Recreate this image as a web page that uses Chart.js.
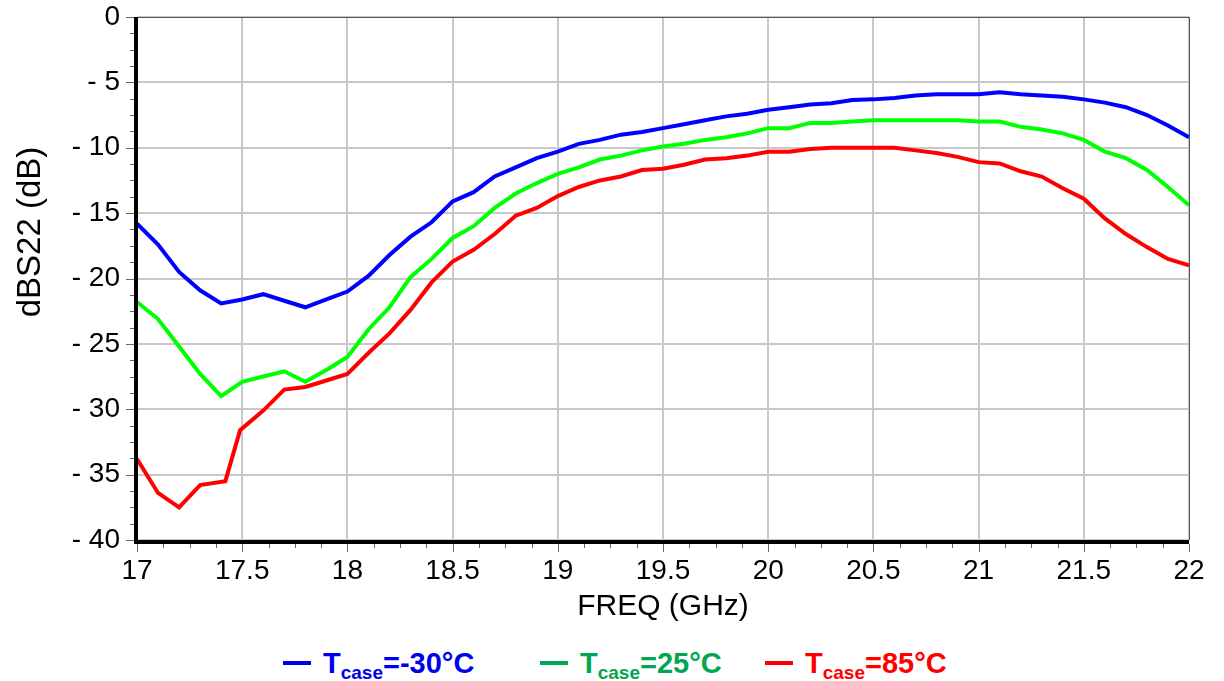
<!DOCTYPE html>
<html>
<head>
<meta charset="utf-8">
<script src="https://cdn.jsdelivr.net/npm/chart.js@4.4.1/dist/chart.umd.min.js"></script>
<style>
  html, body { margin: 0; padding: 0; background: #fff; }
  #wrap { position: relative; width: 1224px; height: 681px; }
  #chartBox { position: absolute; left: 0; top: 0; width: 1224px; height: 631px; }
  .leg { position: absolute; top: 645px; font-family: "Liberation Sans Narrow", "Liberation Sans", Arial, sans-serif;
         font-weight: bold; font-size: 29px; white-space: nowrap; line-height: 36px; }
  .leg .dash { display: inline-block; width: 28px; height: 4px; vertical-align: middle; margin-right: 12px; position: relative; top: -2px; }
  .leg sub { font-size: 19px; vertical-align: -6px; }
</style>
</head>
<body>
<div id="wrap">
  <div id="chartBox"><canvas id="s22Chart"></canvas></div>
  <div class="leg" style="left:283px;color:#0000ee"><span class="dash" style="background:#0000ee"></span>T<sub>case</sub>=-30°C</div>
  <div class="leg" style="left:540px;color:#00a651"><span class="dash" style="background:#00a651"></span>T<sub>case</sub>=25°C</div>
  <div class="leg" style="left:765px;color:#ff0000"><span class="dash" style="background:#ff0000"></span>T<sub>case</sub>=85°C</div>
</div>
<script>
// Fréquences (GHz)
const freq = [17.0, 17.1, 17.2, 17.3, 17.4, 17.5, 17.6, 17.7, 17.8, 17.9,
              18.0, 18.1, 18.2, 18.3, 18.4, 18.5, 18.6, 18.7, 18.8, 18.9,
              19.0, 19.1, 19.2, 19.3, 19.4, 19.5, 19.6, 19.7, 19.8, 19.9,
              20.0, 20.1, 20.2, 20.3, 20.4, 20.5, 20.6, 20.7, 20.8, 20.9,
              21.0, 21.1, 21.2, 21.3, 21.4, 21.5, 21.6, 21.7, 21.8, 21.9, 22.0];

// Tcase = -30°C
const s22Cold = [-15.8, -17.4, -19.5, -20.9, -21.9, -21.6, -21.2, -21.7, -22.2, -21.6,
                 -21.0, -19.8, -18.2, -16.8, -15.7, -14.1, -13.4, -12.2, -11.5, -10.8,
                 -10.3, -9.7, -9.4, -9.0, -8.8, -8.5, -8.2, -7.9, -7.6, -7.4,
                 -7.1, -6.9, -6.7, -6.6, -6.35, -6.3, -6.2, -6.0, -5.9, -5.9,
                 -5.9, -5.75, -5.9, -6.0, -6.1, -6.3, -6.55, -6.9, -7.5, -8.3, -9.2];

// Tcase = 25°C
const s22Room = [-21.8, -23.1, -25.2, -27.3, -29.0, -27.9, -27.5, -27.1, -27.9, -27.0,
                 -26.0, -23.9, -22.2, -19.9, -18.5, -16.9, -16.0, -14.6, -13.5, -12.7,
                 -12.0, -11.5, -10.9, -10.6, -10.2, -9.9, -9.7, -9.4, -9.2, -8.9,
                 -8.5, -8.5, -8.1, -8.1, -8.0, -7.9, -7.9, -7.9, -7.9, -7.9,
                 -8.0, -8.0, -8.4, -8.6, -8.9, -9.4, -10.3, -10.8, -11.7, -13.0, -14.4];

// Tcase = 85°C (points en plus autour du saut à 17.45 GHz)
const freqHot = [17.0, 17.1, 17.2, 17.3, 17.42, 17.49, 17.6, 17.7, 17.8, 17.9,
                 18.0, 18.1, 18.2, 18.3, 18.4, 18.5, 18.6, 18.7, 18.8, 18.9,
                 19.0, 19.1, 19.2, 19.3, 19.4, 19.5, 19.6, 19.7, 19.8, 19.9,
                 20.0, 20.1, 20.2, 20.3, 20.4, 20.5, 20.6, 20.7, 20.8, 20.9,
                 21.0, 21.1, 21.2, 21.3, 21.4, 21.5, 21.6, 21.7, 21.8, 21.9, 22.0];
const s22Hot = [-33.8, -36.4, -37.5, -35.8, -35.5, -31.6, -30.1, -28.5, -28.3, -27.8,
                -27.3, -25.7, -24.2, -22.4, -20.3, -18.7, -17.8, -16.6, -15.2, -14.6,
                -13.7, -13.0, -12.5, -12.2, -11.7, -11.6, -11.3, -10.9, -10.8, -10.6,
                -10.3, -10.3, -10.1, -10.0, -10.0, -10.0, -10.0, -10.2, -10.4, -10.7,
                -11.1, -11.2, -11.8, -12.2, -13.1, -13.9, -15.4, -16.6, -17.6, -18.5, -19.0];

const xTicks = [17, 17.5, 18, 18.5, 19, 19.5, 20, 20.5, 21, 21.5, 22];
const yTicks = [0, -5, -10, -15, -20, -25, -30, -35, -40];

const FONT = 'Liberation Sans, Arial, sans-serif';

function toPoints(xs, ys) {
    return ys.map((y, i) => ({ x: xs[i], y: y }));
}

// Bordures, graduations et titre vertical
const framePlugin = {
    id: 'frame',
    afterDraw(chart) {
        const { ctx, chartArea: a, scales } = chart;
        ctx.save();
        // bordure haute / droite fines
        ctx.strokeStyle = '#555';
        ctx.lineWidth = 1;
        ctx.beginPath();
        ctx.moveTo(a.left, a.top + 0.5); ctx.lineTo(a.right, a.top + 0.5);
        ctx.moveTo(a.right + 0.5, a.top); ctx.lineTo(a.right + 0.5, a.bottom);
        ctx.stroke();
        // axes gauche / bas épais
        ctx.strokeStyle = '#000';
        ctx.lineWidth = 4;
        ctx.beginPath();
        ctx.moveTo(a.left - 1, a.top); ctx.lineTo(a.left - 1, a.bottom + 2);
        ctx.lineTo(a.right, a.bottom + 2);
        ctx.stroke();
        // graduations
        ctx.strokeStyle = '#666';
        ctx.lineWidth = 1;
        ctx.beginPath();
        for (let k = 0; k <= 32; k++) {
            const y = Math.round(scales.y.getPixelForValue(-k * 1.25)) + 0.5;
            const len = k % 4 === 0 ? 8 : 4;
            ctx.moveTo(a.left - 3 - len, y); ctx.lineTo(a.left - 3, y);
        }
        for (let k = 0; k <= 40; k++) {
            const x = Math.round(scales.x.getPixelForValue(17 + k * 0.125)) + 0.5;
            const len = k % 4 === 0 ? 8 : 4;
            ctx.moveTo(x, a.bottom + 4); ctx.lineTo(x, a.bottom + 4 + len);
        }
        ctx.stroke();
        // titre de l'axe Y
        ctx.fillStyle = '#000';
        ctx.font = '33px ' + FONT;
        ctx.textAlign = 'center';
        ctx.textBaseline = 'middle';
        ctx.translate(31, 232);
        ctx.rotate(-Math.PI / 2);
        ctx.fillText('dBS22 (dB)', 0, 0);
        ctx.restore();
    }
};

const ctx = document.getElementById('s22Chart').getContext('2d');
new Chart(ctx, {
    type: 'line',
    data: {
        datasets: [
            { label: 'Tcase=-30°C', data: toPoints(freq, s22Cold), borderColor: '#0000ff' },
            { label: 'Tcase=25°C', data: toPoints(freq, s22Room), borderColor: '#00ff00' },
            { label: 'Tcase=85°C', data: toPoints(freqHot, s22Hot), borderColor: '#ff0000' }
        ]
    },
    options: {
        responsive: true,
        maintainAspectRatio: false,
        animation: false,
        layout: { padding: { top: 17, right: 35, left: 0, bottom: 0 } },
        elements: {
            line: { borderWidth: 4, tension: 0 },
            point: { radius: 0 }
        },
        plugins: {
            legend: { display: false },
            tooltip: { enabled: false }
        },
        scales: {
            x: {
                type: 'linear',
                min: 17, max: 22,
                afterBuildTicks: s => { s.ticks = xTicks.map(v => ({ value: v })); },
                afterFit: s => { s.height = 91; s.paddingLeft = 0; s.paddingRight = 0; },
                ticks: {
                    color: '#000',
                    font: { family: FONT, size: 28 },
                    padding: 14,
                    maxRotation: 0,
                    callback: v => String(v)
                },
                grid: { color: '#c8c8c8', lineWidth: 2, drawTicks: false },
                border: { display: false },
                title: {
                    display: true,
                    text: 'FREQ (GHz)',
                    color: '#000',
                    font: { family: FONT, size: 30 },
                    padding: { top: 0, bottom: 6 }
                }
            },
            y: {
                min: -40, max: 0,
                afterBuildTicks: s => { s.ticks = yTicks.map(v => ({ value: v })); },
                afterFit: s => { s.width = 137; s.paddingTop = 0; s.paddingBottom = 0; },
                ticks: {
                    color: '#000',
                    font: { family: FONT, size: 28 },
                    padding: 17,
                    callback: v => v === 0 ? '0' : '- ' + Math.abs(v)
                },
                grid: { color: '#c8c8c8', lineWidth: 2, drawTicks: false },
                border: { display: false }
            }
        }
    },
    plugins: [framePlugin]
});
</script>
</body>
</html>
